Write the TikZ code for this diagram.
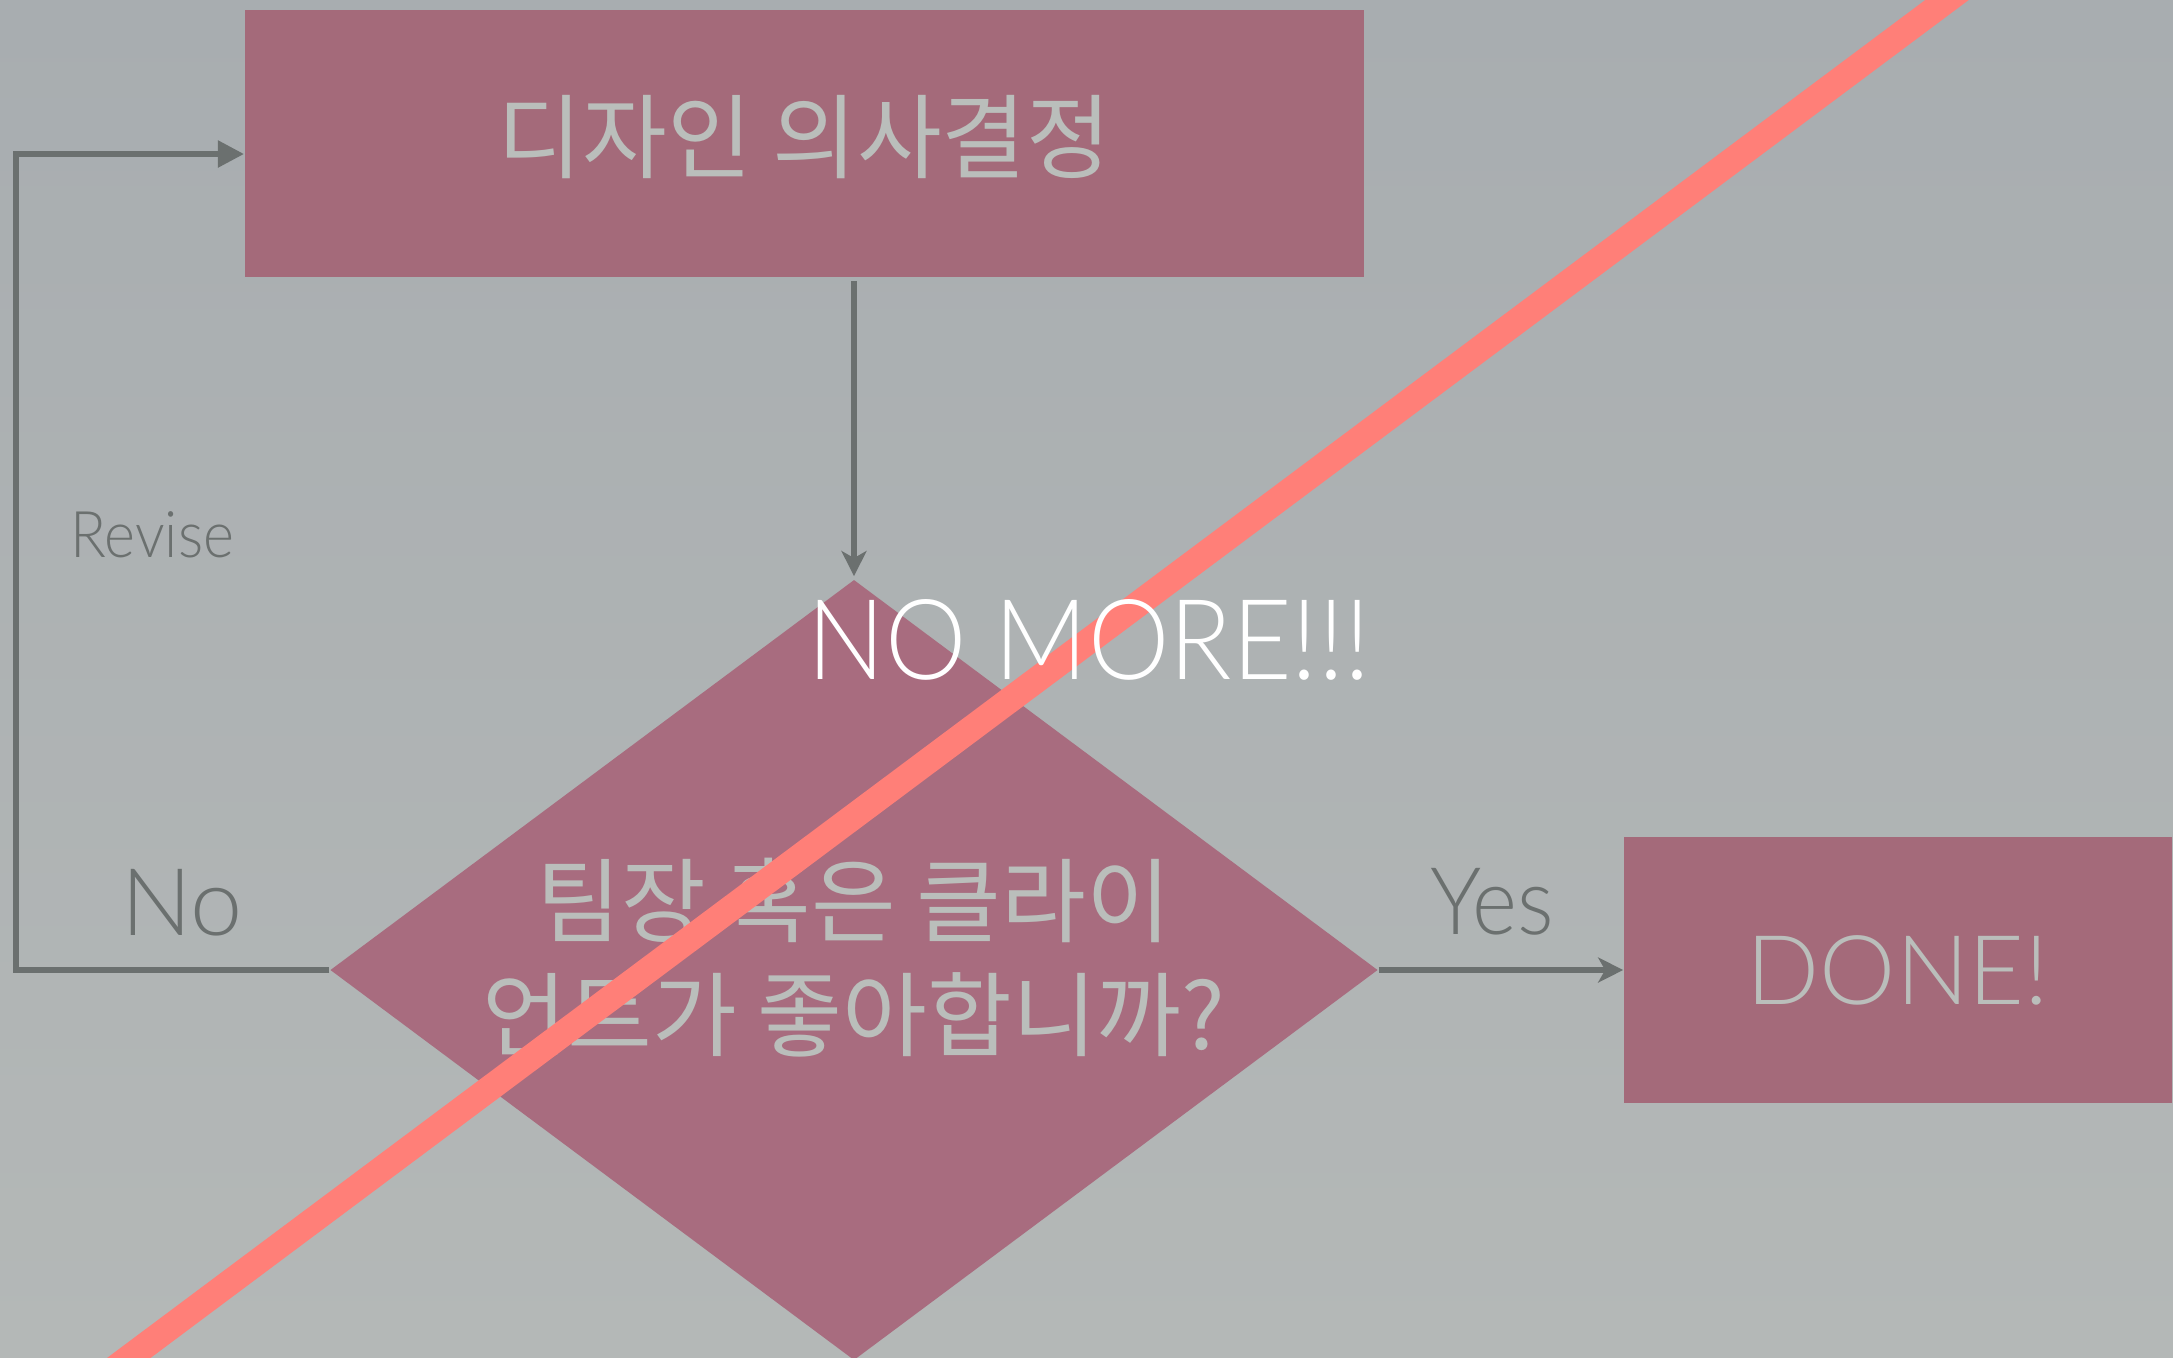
\documentclass[tikz,border=0pt]{standalone}
\usepackage{fontspec}
\setmainfont{Lato}[UprightFont=* Light]
\newfontfamily\latc{Lato}[UprightFont=* Light, FakeStretch=0.92]
\newfontfamily\kr{Noto Sans CJK KR}[FakeStretch=1.0]
\usetikzlibrary{shapes.geometric,arrows.meta}
\definecolor{bgtop}{HTML}{A8ADB0}
\definecolor{bgbot}{HTML}{B4B8B7}
\definecolor{boxc}{HTML}{A46A7A}
\definecolor{diac}{HTML}{A86C7F}
\definecolor{boxtext}{HTML}{BABEBB}
\definecolor{arrowc}{HTML}{6B706F}
\definecolor{redline}{HTML}{FF7F78}
\begin{document}
\begin{tikzpicture}[x=0.01cm,y=-0.01cm,
  box/.style={rectangle, fill=boxc, inner sep=0pt, text=boxtext},
  conn/.style={draw=arrowc, line width=1.5pt},
  lbl/.style={text=arrowc, inner sep=0pt, anchor=base west},
  tri/.style={-{Triangle[length=0.26cm,width=0.26cm]}},
  stl/.style={-{Stealth[length=0.25cm,width=0.25cm,inset=0.07cm]}}]
\useasboundingbox (0,0) rectangle (2173,1357);
\clip (0,0) rectangle (2173,1357);
\shade[top color=bgtop, bottom color=bgbot] (0,0) rectangle (2173,1357);
\node[box, minimum width=11.19cm, minimum height=2.67cm,
  text height=0.8cm, text depth=0.25cm,
  font=\kr\fontsize{26.2pt}{30pt}\selectfont] (design) at (804.5,143.5) {디자인 의사결정};
\node[diamond, aspect=1.3423, fill=diac, minimum width=10.47cm, minimum height=7.8cm,
  inner sep=0pt,
  label={[name=qtext, anchor=center, yshift=0.12cm, inner sep=0pt, text=boxtext, align=center,
    font=\kr\fontsize{26.2pt}{32.4pt}\selectfont]center:{팀장 혹은 클라이\\언트가 좋아합니까?}}] (q) at (854,970) {};
\node[box, minimum width=5.48cm, minimum height=2.66cm,
  font=\fontsize{27.4pt}{30pt}\selectfont] (done) at (1898,970) {DONE!};
\coordinate (c1) at (16,970);
\coordinate (c2) at (16,154);
\draw[conn, tri] (q.west) -- (c1) -- (c2) -- (design.west |- c2);
\draw[conn, stl, shorten <=0.03cm, shorten >=0.03cm] (design.south -| q.north) -- (q.north);
\draw[conn, stl] (q.east) -- (done.west);
\node[lbl, font=\latc\fontsize{18.3pt}{20pt}\selectfont] (revise) at (70,557) {Revise};
\node[lbl, font=\fontsize{26.6pt}{28pt}\selectfont] (no) at (121,935) {No};
\node[lbl, font=\latc\fontsize{26.6pt}{28pt}\selectfont] (yes) at (1430,934) {Yes};
\coordinate (r1) at (39,1425);
\coordinate (r2) at (2038,-68);
\draw[redline, line width=0.26cm] (r1) -- (r2);
\node[anchor=base west, inner sep=0pt, text=white,
  font=\latc\fontsize{31.8pt}{34pt}\selectfont] (nomore) at (807,679) {NO MORE!!!};
\end{tikzpicture}
\end{document}
